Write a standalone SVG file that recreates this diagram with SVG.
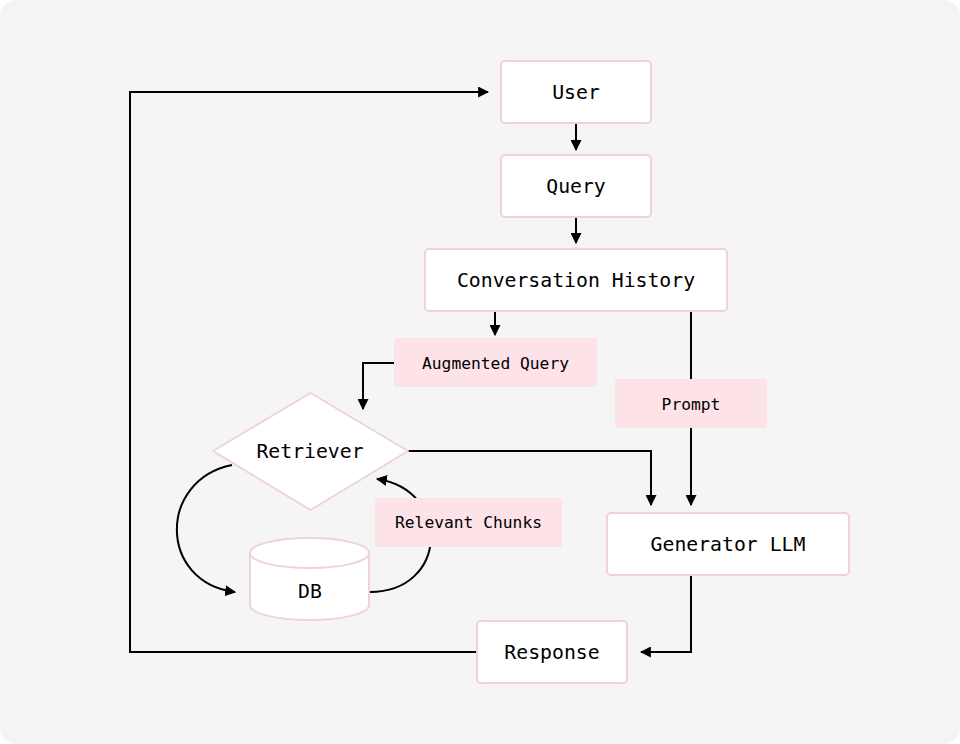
<svg xmlns="http://www.w3.org/2000/svg" width="960" height="744" viewBox="0 0 960 744">
<defs>
<style>
.bg{fill:#f5f5f5}
.node{fill:#ffffff;stroke:#eed3da;stroke-width:2}
.lbl{fill:#fde2e8}
.t{font-family:"DejaVu Sans Mono","Liberation Mono",monospace;font-size:19.8px;fill:#000;text-anchor:middle;dominant-baseline:central}
.tl{font-family:"DejaVu Sans Mono","Liberation Mono",monospace;font-size:16.3px;fill:#000;text-anchor:middle;dominant-baseline:central}
.c{fill:none;stroke:#000;stroke-width:2;marker-end:url(#ah)}
</style>
<marker id="ah" viewBox="0 0 10 10" refX="9" refY="5" markerWidth="5.5" markerHeight="5.5" orient="auto" markerUnits="strokeWidth">
<path d="M0,0 L10,5 L0,10 z" fill="#000"/>
</marker>
</defs>
<rect width="960" height="744" fill="#ffffff"/>
<rect class="bg" x="0" y="0" width="960" height="744" rx="16"/>

<g id="connectors">
<path class="c" d="M576,124 V150"/>
<path class="c" d="M576,218 V243"/>
<path class="c" d="M495,312 V335"/>
<path class="c" d="M394,363 H363 V409"/>
<path class="c" d="M691,312 V505"/>
<path class="c" d="M408,451 H651 V505"/>
<path class="c" d="M232,465 C158,480 158,582 235,592"/>
<path class="c" d="M370,592 C448,592 452,490 377,479"/>
<path class="c" d="M691,576 V652 H641"/>
<path class="c" d="M477,652 H130 V92 H488"/>
</g>

<g id="user"><rect class="node" x="501" y="61" width="150" height="62" rx="4"/><text class="t" x="576" y="92">User</text></g>
<g id="query"><rect class="node" x="501" y="155" width="150" height="62" rx="4"/><text class="t" x="576" y="186">Query</text></g>
<g id="history"><rect class="node" x="425" y="249" width="302" height="62" rx="4"/><text class="t" x="576" y="280">Conversation History</text></g>
<g id="augmented-query"><rect class="lbl" x="394" y="338" width="203" height="49" rx="3"/><text class="tl" x="495.5" y="363">Augmented Query</text></g>
<g id="prompt"><rect class="lbl" x="615" y="379" width="152" height="49" rx="3"/><text class="tl" x="691" y="404">Prompt</text></g>
<g id="retriever"><path class="node" d="M310.5,393 L408,451 L310.5,510 L213,451 Z" stroke-linejoin="round"/><text class="t" x="310" y="451">Retriever</text></g>
<g id="db">
<path class="node" d="M250,553 V605 A59.5,15 0 0 0 369,605 V553 A59.5,15 0 0 0 250,553 Z"/>
<path d="M250,553 A59.5,15 0 0 0 369,553" fill="none" stroke="#eed3da" stroke-width="2"/>
<text class="t" x="310" y="591">DB</text>
</g>
<g id="relevant-chunks"><rect class="lbl" x="375" y="498" width="187" height="49" rx="3"/><text class="tl" x="468.5" y="522">Relevant Chunks</text></g>
<g id="generator"><rect class="node" x="607" y="513" width="242" height="62" rx="4"/><text class="t" x="728" y="544">Generator LLM</text></g>
<g id="response"><rect class="node" x="477" y="621" width="150" height="62" rx="4"/><text class="t" x="552" y="652">Response</text></g>
</svg>
